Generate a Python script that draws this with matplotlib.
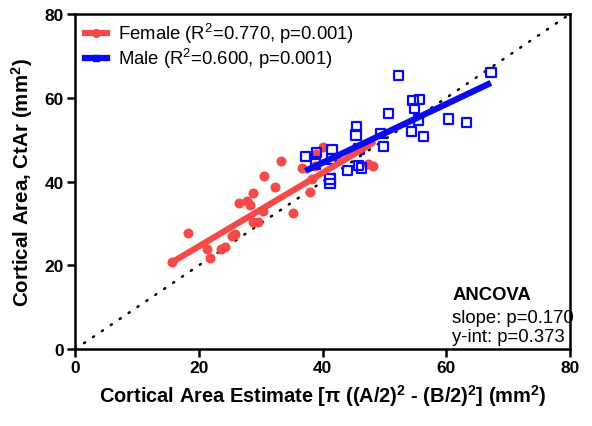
import numpy as np
import matplotlib
matplotlib.use("Agg")
import matplotlib.pyplot as plt
from matplotlib.lines import Line2D

plt.rcParams['font.family'] = ['Liberation Sans', 'DejaVu Sans']
plt.rcParams['mathtext.fontset'] = 'custom'
plt.rcParams['mathtext.rm'] = 'Liberation Sans'
plt.rcParams['mathtext.bf'] = 'Liberation Sans:bold'

# female data (estimate, measured CtAr)
female_x = np.array([15.6, 18.2, 21.3, 21.8, 23.5, 24.2, 25.3, 25.8, 26.5, 27.7,
                     28.2, 28.8, 28.8, 29.6, 30.4, 30.6, 32.3, 33.2, 35.2, 36.6,
                     37.9, 38.2, 38.9, 38.8, 40.0, 42.2, 45.9, 47.4, 48.1])
female_y = np.array([20.7, 27.7, 23.9, 21.7, 24.0, 24.4, 26.9, 27.4, 34.8, 35.4,
                     34.4, 37.2, 30.3, 30.3, 33.0, 41.4, 38.7, 45.0, 32.6, 43.2,
                     37.4, 40.6, 46.6, 43.8, 48.2, 45.8, 47.9, 44.3, 43.8])

# male data
male_x = np.array([37.2, 38.8, 39.0, 41.2, 41.2, 41.4, 41.5, 44.0, 45.4, 45.5,
                   45.8, 45.9, 46.3, 49.3, 49.8, 50.6, 52.3, 54.4, 54.6, 54.8,
                   55.5, 55.7, 56.3, 60.3, 63.2, 67.2])
male_y = np.array([45.9, 44.2, 47.0, 40.6, 39.6, 45.4, 47.6, 42.7, 51.1, 53.1,
                   43.8, 47.8, 43.2, 51.5, 48.3, 56.2, 65.3, 51.9, 59.3, 57.5,
                   54.7, 59.5, 50.8, 54.9, 54.1, 66.1])

# regression lines (slope, intercept)
female_fit = (0.877, 7.0)
male_fit = (0.70, 16.5)

red = '#F44A4A'
blue = '#0A0AF5'

fig = plt.figure(figsize=(5.92, 4.27), dpi=100)
ax = fig.add_axes([0.127, 0.180, 0.836, 0.785])

ax.plot([0, 80], [0, 80], color='black', linestyle=(0, (0.5, 3.8)), lw=1.8,
        dash_capstyle='round', zorder=1)

ax.scatter(female_x, female_y, s=52, color=red, zorder=2, linewidths=0)
ax.scatter(male_x, male_y, s=45, marker='s', facecolors='none',
           edgecolors=blue, linewidths=1.6, zorder=3)

fx = np.array([female_x.min(), female_x.max()])
mx = np.array([male_x.min(), male_x.max()])
ax.plot(fx, female_fit[0] * fx + female_fit[1], color=red, lw=4.5,
        solid_capstyle='round', zorder=4)
ax.plot(mx, male_fit[0] * mx + male_fit[1], color=blue, lw=4.5,
        solid_capstyle='butt', zorder=5)

ax.set_xlim(0, 80)
ax.set_ylim(0, 80)
ax.set_xticks([0, 20, 40, 60, 80])
ax.set_yticks([0, 20, 40, 60, 80])
for s in ax.spines.values():
    s.set_linewidth(1.8)
ax.tick_params(width=1.8, length=6, labelsize=12.5, pad=2)
for lab in ax.get_xticklabels() + ax.get_yticklabels():
    lab.set_fontweight('bold')

ax.set_xlabel(r'Cortical Area Estimate [π ((A/2)$\mathregular{^2}$ - (B/2)$\mathregular{^2}$] (mm$\mathregular{^2}$)',
              fontsize=14.4, fontweight='bold', labelpad=5)
ax.set_ylabel(r'Cortical Area, CtAr (mm$\mathregular{^2}$)', fontsize=14.8,
              fontweight='bold', labelpad=7)

handles = [
    Line2D([], [], color=red, lw=4.5, marker='o', markersize=5.5),
    Line2D([], [], color=blue, lw=4.5, marker='s', markersize=5),
]
labels = [r'Female (R$\mathregular{^2}$=0.770, p=0.001)',
          r'Male (R$\mathregular{^2}$=0.600, p=0.001)']
ax.legend(handles, labels, loc='upper left', bbox_to_anchor=(0.005, 1.0),
          frameon=False, fontsize=13.3, handlelength=1.2, handletextpad=0.6,
          borderaxespad=0.1, borderpad=0.3, labelspacing=0.05)

ax.text(0.762, 0.149, 'ANCOVA', transform=ax.transAxes, fontsize=13.3,
        fontweight='bold', va='baseline')
ax.text(0.762, 0.081, 'slope: p=0.170', transform=ax.transAxes,
        fontsize=13.3, va='baseline')
ax.text(0.762, 0.024, 'y-int: p=0.373', transform=ax.transAxes,
        fontsize=13.3, va='baseline')

fig.savefig('out.png', dpi=100)
